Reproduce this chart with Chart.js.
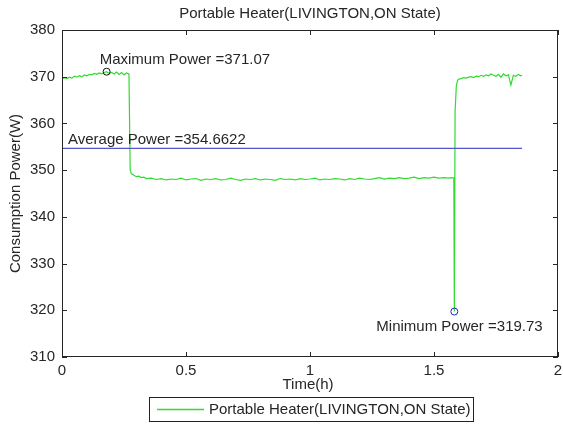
<!DOCTYPE html>
<html>
<head>
<meta charset="utf-8">
<script src="https://cdn.jsdelivr.net/npm/chart.js@4"></script>
<style>
  html, body { margin: 0; padding: 0; background: #fff; }
  #wrap { width: 563px; height: 424px; }
</style>
</head>
<body>
<div id="wrap"><canvas id="heater" width="563" height="424"></canvas></div>
<script>
// hours
const timeH = [
  0, 0.01, 0.02, 0.03, 0.04, 0.05, 0.06, 0.07, 0.08, 0.09,
  0.10, 0.11, 0.12, 0.13, 0.14, 0.15, 0.16, 0.17, 0.18, 0.19,
  0.20, 0.21, 0.22, 0.23, 0.24, 0.25, 0.26, 0.27,
  0.275, 0.28, 0.29, 0.30, 0.31, 0.32, 0.33, 0.34,
  0.36, 0.38, 0.40, 0.42, 0.44, 0.46, 0.48, 0.50, 0.52, 0.54,
  0.56, 0.58, 0.60, 0.62, 0.64, 0.66, 0.68, 0.70, 0.72, 0.74,
  0.76, 0.78, 0.80, 0.82, 0.84, 0.86, 0.88, 0.90, 0.92, 0.94,
  0.96, 0.98, 1.00, 1.02, 1.04, 1.06, 1.08, 1.10, 1.12, 1.14,
  1.16, 1.18, 1.20, 1.22, 1.24, 1.26, 1.28, 1.30, 1.32, 1.34,
  1.36, 1.38, 1.40, 1.42, 1.44, 1.46, 1.48, 1.50, 1.52, 1.54, 1.56,
  1.57, 1.58, 1.582, 1.585, 1.59, 1.595, 1.60,
  1.61, 1.62, 1.63, 1.64, 1.65, 1.66, 1.67, 1.68, 1.69, 1.70,
  1.71, 1.72, 1.73, 1.74, 1.75, 1.76, 1.77, 1.78, 1.79, 1.80,
  1.81, 1.82, 1.83, 1.84, 1.85, 1.855
];
// watts
const powerW = [
  369.5, 369.8, 369.6, 369.9, 369.7, 370.1, 369.9, 370.2, 370.0, 370.4,
  370.2, 370.5, 370.4, 370.7, 370.5, 370.8, 370.6, 370.9, 371.07, 370.7,
  370.9, 370.6, 371.0, 370.5, 370.9, 370.4, 370.8, 370.6,
  350.0, 349.2, 348.9, 348.6, 348.7, 348.4, 348.5, 348.2,
  348.3, 348.0, 348.2, 347.9, 348.1, 348.0, 348.3, 347.9, 348.1, 348.2,
  347.8, 348.1, 348.0, 348.2, 347.9, 348.0, 348.3, 348.0, 347.8, 348.1,
  348.0, 348.2, 347.9, 348.1, 348.0, 347.8, 348.2, 348.0, 348.1, 347.9,
  348.2, 348.0, 348.1, 348.3, 347.9, 348.1, 348.0, 348.2, 348.1, 347.9,
  348.2, 348.0, 348.3, 348.1, 348.0, 348.2, 348.4, 348.1, 348.3, 348.2,
  348.4, 348.2, 348.3, 348.5, 348.2, 348.4, 348.3, 348.5, 348.3, 348.4, 348.3,
  348.4, 348.3, 319.73, 362.5, 368.0, 369.2, 369.5,
  369.6, 369.8, 369.7, 369.9, 370.0, 369.8, 370.1, 370.0, 370.3, 370.1,
  370.4, 370.2, 370.6, 370.3, 370.1, 370.5, 369.9, 370.6, 370.2, 370.4,
  368.2, 370.3, 370.1, 370.5, 370.2, 370.3
];
const avgPower = 354.6622;
const avgSpan = [0, 1.855];
const maxPoint = { x: 0.18, y: 371.07 };
const minPoint = { x: 1.582, y: 319.73 };
const xTicks = [0, 0.5, 1, 1.5, 2];
const xTickLabels = ['0', '0.5', '1', '1.5', '2'];
const yTicks = [310, 320, 330, 340, 350, 360, 370, 380];

const seriesName = 'Portable Heater(LIVINGTON,ON State)';
const green = '#2fdc2f';
const FONT = '"Liberation Sans", Arial, sans-serif';
const TXT = '#262626';

const heaterPts = timeH.map((t, i) => ({ x: t, y: powerW[i] }));

// box, inward ticks, title, axis titles, notes and legend (matlab look)
const matlabFrame = {
  id: 'matlabFrame',
  afterDraw(chart) {
    const { ctx, chartArea: a, scales: { x, y } } = chart;
    ctx.save();
    ctx.strokeStyle = '#262626';
    ctx.lineWidth = 1;
    ctx.strokeRect(a.left + 0.5, a.top + 0.5, a.right - a.left - 1, a.bottom - a.top - 1);
    ctx.beginPath();
    xTicks.forEach(v => {
      const px = Math.round(x.getPixelForValue(v)) + 0.5;
      ctx.moveTo(px, a.bottom); ctx.lineTo(px, a.bottom - 5);
      ctx.moveTo(px, a.top); ctx.lineTo(px, a.top + 5);
    });
    yTicks.forEach(v => {
      const py = Math.round(y.getPixelForValue(v)) + 0.5;
      ctx.moveTo(a.left, py); ctx.lineTo(a.left + 5, py);
      ctx.moveTo(a.right, py); ctx.lineTo(a.right - 5, py);
    });
    ctx.stroke();

    ctx.fillStyle = TXT;
    ctx.font = '15px ' + FONT;
    ctx.textBaseline = 'middle';
    ctx.textAlign = 'center';
    const cx = (a.left + a.right) / 2;
    ctx.fillText(seriesName, cx, 14);
    ctx.fillText('Time(h)', cx - 2, 385);
    ctx.save();
    ctx.translate(16, (a.top + a.bottom) / 2);
    ctx.rotate(-Math.PI / 2);
    ctx.fillText('Consumption Power(W)', 0, 0);
    ctx.restore();

    // annotations
    ctx.textAlign = 'left';
    const mx = x.getPixelForValue(maxPoint.x), my = y.getPixelForValue(maxPoint.y);
    ctx.fillText('Maximum Power =' + maxPoint.y.toFixed(2), mx - 7, my - 12);
    const ay = y.getPixelForValue(avgPower);
    ctx.fillText('Average Power =' + avgPower, a.left + 6, ay - 9);
    const nx = x.getPixelForValue(minPoint.x), ny = y.getPixelForValue(minPoint.y);
    ctx.fillText('Minimum Power =' + minPoint.y.toFixed(2), nx - 78, ny + 15);

    // legend box
    ctx.fillStyle = '#fff';
    ctx.fillRect(149.5, 397.5, 324, 24);
    ctx.strokeStyle = '#222';
    ctx.strokeRect(149.5, 397.5, 324, 24);
    ctx.strokeStyle = green;
    ctx.lineWidth = 1.3;
    ctx.beginPath();
    ctx.moveTo(157, 409.5); ctx.lineTo(204, 409.5);
    ctx.stroke();
    ctx.fillStyle = TXT;
    ctx.fillText(seriesName, 209, 410);
    ctx.restore();
  }
};

new Chart(document.getElementById('heater'), {
  type: 'scatter',
  data: {
    datasets: [
      {
        label: seriesName,
        data: heaterPts,
        showLine: true,
        borderColor: green,
        borderWidth: 1.2,
        pointRadius: 0,
        order: 2
      },
      {
        label: 'Average',
        data: avgSpan.map(t => ({ x: t, y: avgPower })),
        showLine: true,
        borderColor: '#5555cc',
        borderWidth: 1.2,
        pointRadius: 0,
        order: 1
      },
      {
        label: 'Max',
        data: [maxPoint],
        pointRadius: 3.5,
        pointBorderColor: '#111',
        pointBackgroundColor: 'rgba(0,0,0,0)',
        pointBorderWidth: 1
      },
      {
        label: 'Min',
        data: [minPoint],
        pointRadius: 3.5,
        pointBorderColor: '#2222cc',
        pointBackgroundColor: 'rgba(0,0,0,0)',
        pointBorderWidth: 1
      }
    ]
  },
  options: {
    responsive: false,
    animation: false,
    layout: { padding: { left: 0, right: 0, top: 30, bottom: 0 } },
    plugins: {
      legend: { display: false },
      tooltip: { enabled: false }
    },
    scales: {
      x: {
        type: 'linear',
        min: 0,
        max: 2,
        afterBuildTicks: s => { s.ticks = xTicks.map(v => ({ value: v })); },
        ticks: {
          color: TXT, font: { size: 15, family: FONT }, padding: 5, maxRotation: 0,
          callback: v => xTickLabels[xTicks.indexOf(v)]
        },
        grid: { drawOnChartArea: false, drawTicks: false },
        border: { display: false },
        afterFit: s => { s.height = 67; s.paddingRight = 5; s.paddingLeft = 0; }
      },
      y: {
        min: 310,
        max: 380,
        afterBuildTicks: s => { s.ticks = yTicks.map(v => ({ value: v })); },
        ticks: { color: TXT, font: { size: 15, family: FONT }, padding: 7 },
        grid: { drawOnChartArea: false, drawTicks: false },
        border: { display: false },
        afterFit: s => { s.width = 62; }
      }
    }
  },
  plugins: [matlabFrame]
});
</script>
</body>
</html>
